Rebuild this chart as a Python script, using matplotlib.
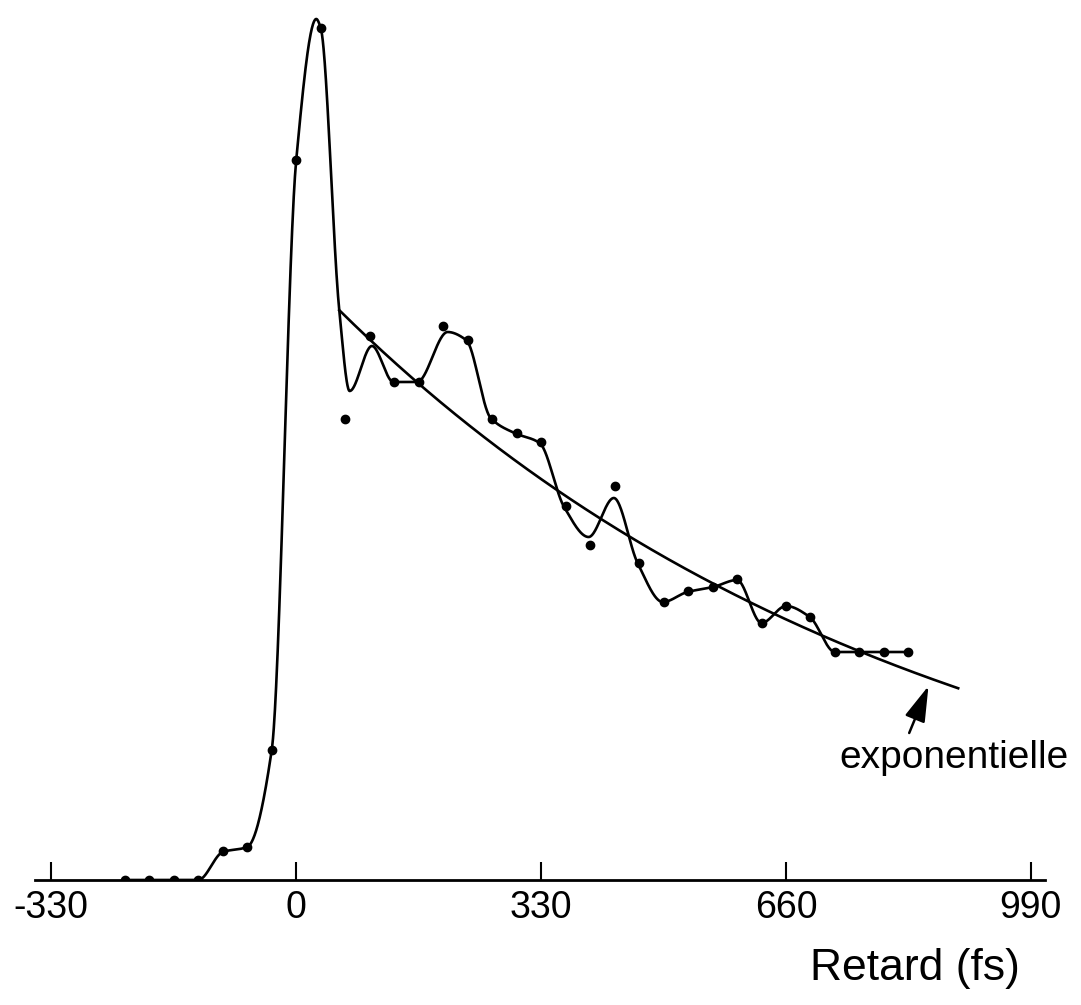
import numpy as np
import matplotlib
matplotlib.use("Agg")
import matplotlib.pyplot as plt

plt.rcParams['font.family'] = ['Liberation Sans', 'DejaVu Sans']

# measured points (delay in fs, signal in arbitrary units)
delay = [-231, -198, -165, -132, -99, -66, -33, 0, 33, 66, 99, 132, 165, 198,
         231, 264, 297, 330, 363, 396, 429, 462, 495, 528, 561, 594, 627,
         660, 693, 726, 759, 792, 825]
signal = [0, 0, 0, 0, 29, 33, 130, 720, 852, 461, 544, 498, 498, 554,
          540, 461, 447, 438, 374, 335, 394, 317, 278, 289, 293, 301, 257,
          274, 263, 228, 228, 228, 228]

# hand-drawn guide curve, knots
curve_t = [-231, -132, -99, -66, -33, 0, 27, 33, 58, 72, 102, 131, 163, 204,
           229, 262, 294, 328, 361, 394, 428, 460, 494, 527, 562, 594, 627,
           660, 692, 726, 759, 792, 825]
curve_v = [0, 0, 28, 33, 130, 720, 861, 852, 570, 489, 534, 498, 498, 548,
           540, 462, 447, 437, 373, 343, 382, 317, 278, 288, 293, 300, 257,
           274, 263, 228, 228, 228, 228]

# exponential fit parameters
exp_amp = 624
exp_tau = 790
exp_off = -10
exp_start, exp_end = 58, 892

ticks = [-330, 0, 330, 660, 990]


def pchip(x, y, xs):
    x = np.asarray(x, float)
    y = np.asarray(y, float)
    h = np.diff(x)
    d = np.diff(y) / h
    m = np.zeros_like(y)
    m[0], m[-1] = d[0], d[-1]
    for k in range(1, len(x) - 1):
        if d[k - 1] * d[k] > 0:
            w1 = 2 * h[k] + h[k - 1]
            w2 = h[k] + 2 * h[k - 1]
            m[k] = (w1 + w2) / (w1 / d[k - 1] + w2 / d[k])
    idx = np.clip(np.searchsorted(x, xs) - 1, 0, len(x) - 2)
    hk = h[idx]
    s = (xs - x[idx]) / hk
    h00 = 2 * s**3 - 3 * s**2 + 1
    h10 = s**3 - 2 * s**2 + s
    h01 = -2 * s**3 + 3 * s**2
    h11 = s**3 - s**2
    return h00 * y[idx] + h10 * hk * m[idx] + h01 * y[idx + 1] + h11 * hk * m[idx + 1]


fig = plt.figure(figsize=(10.81, 10.05), dpi=100)
ax = fig.add_axes([35 / 1081, 125 / 1005, 1010 / 1081, 880 / 1005])

ts = np.linspace(curve_t[0], curve_t[-1], 2000)
ax.plot(ts, pchip(curve_t, curve_v, ts), color='black', lw=1.9)

te = np.linspace(exp_start, exp_end, 300)
ax.plot(te, exp_amp * np.exp(-te / exp_tau) + exp_off, color='black', lw=1.9)

ax.plot(delay, signal, 'o', color='black', ms=6)

ax.annotate('', xy=(852, 194), xytext=(826, 147),
            arrowprops=dict(arrowstyle='-|>,head_length=22,head_width=6.5',
                            mutation_scale=1, color='black', lw=1.8,
                            shrinkA=0, shrinkB=0))

ax.set_xlim(-352, 1009)
ax.set_ylim(0, 880)
for s in ['top', 'right', 'left']:
    ax.spines[s].set_visible(False)
ax.spines['bottom'].set_linewidth(2)
ax.set_yticks([])
ax.set_xticks(ticks)
ax.set_xticklabels([str(t) for t in ticks])
ax.tick_params(axis='x', direction='in', length=13, width=1.5, labelsize=27, pad=7)

fig.text(954 / 1081, 1 - 768 / 1005, 'exponentielle', fontsize=28, ha='center', va='baseline')
fig.text(915 / 1081, 1 - 968 / 1005, 'Retard (fs)', fontsize=32, ha='center', va='center')

fig.savefig('out.png', dpi=100)
